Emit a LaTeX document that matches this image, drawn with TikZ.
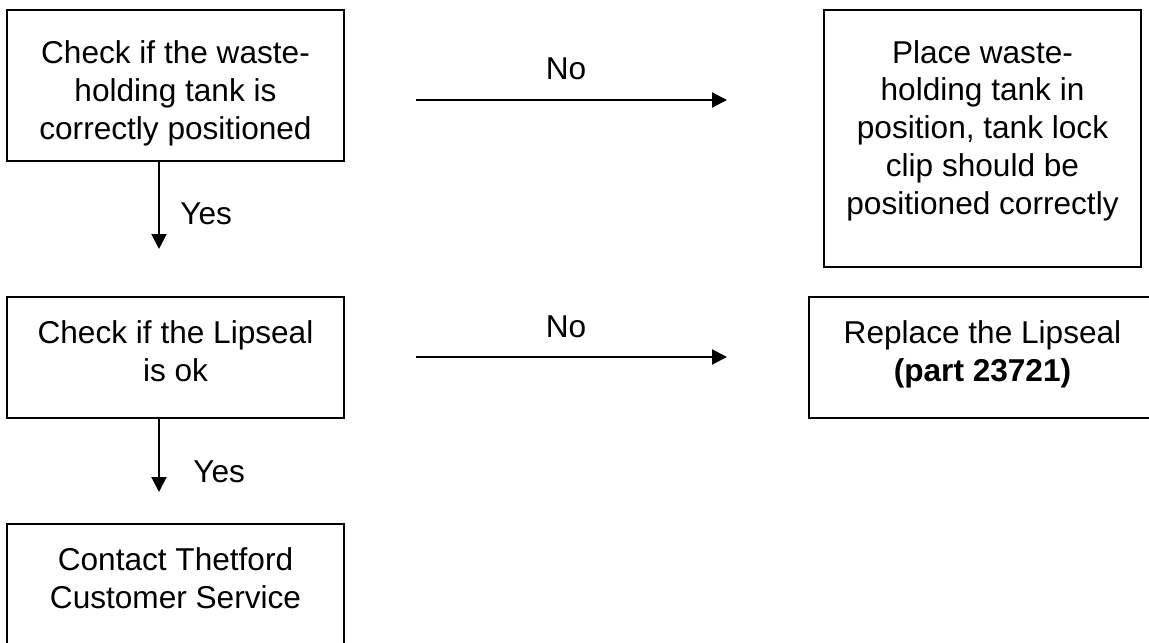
\documentclass[tikz,border=0pt]{standalone}
\usepackage{fontspec}
\setmainfont{Liberation Sans}
\usetikzlibrary{arrows.meta}
\tikzset{
  flowbox/.style={draw, line width=1pt, inner sep=0pt, align=center, anchor=north,
    font=\fontsize{15.8}{18.85}\selectfont},
  lbl/.style={inner sep=0pt, font=\fontsize{15.8}{18.85}\selectfont},
  flow/.style={-{Triangle[length=7.5pt,width=7.5pt]}, line width=1pt}
}
\begin{document}
\begin{tikzpicture}[x=0.5pt,y=-0.5pt]
      \useasboundingbox (0,0) rectangle (1149,642);
      \clip (0,0) rectangle (1149,642);
      \node[flowbox, minimum width=168.5pt, text height=64.5pt, text depth=11pt]
        (checktank) at (175.5,9) {Check if the waste-\\holding tank is\\correctly positioned};
      \node[flowbox, minimum width=158.5pt, text height=102pt, text depth=26.5pt]
        (placetank) at (982.5,9) {Place waste-\\holding tank in\\position, tank lock\\clip should be\\positioned correctly};
      \node[flowbox, minimum width=168.5pt, text height=42pt, text depth=18.5pt]
        (checkseal) at (175.5,296) {Check if the Lipseal\\is ok};
      \node[flowbox, minimum width=173.5pt, text height=42pt, text depth=18.5pt]
        (replaceseal) at (982.5,296) {Replace the Lipseal\\\textbf{(part 23721)}};
      \node[flowbox, minimum width=168.5pt, text height=42pt, text depth=19pt]
        (contact) at (175.5,523) {Contact Thetford\\Customer Service};
      \coordinate (no1s) at (416,100);
      \coordinate (no1e) at (727,100);
      \coordinate (no2s) at (416,357);
      \coordinate (no2e) at (727,357);
      \coordinate (yes1e) at (159,249);
      \coordinate (yes2e) at (159,492);
      \node[lbl, anchor=base] (no1) at (566,80) {No};
      \node[lbl, anchor=base] (no2) at (566,337) {No};
      \node[lbl, anchor=base west] (yes1) at (180,224) {Yes};
      \node[lbl, anchor=base west] (yes2) at (193,482) {Yes};
      \begin{scope}[flow]
        \draw (no1s) to (no1e);
        \draw (no2s) to (no2e);
        \draw (checktank.south -| yes1e) to (yes1e);
        \draw (checkseal.south -| yes2e) to (yes2e);
      \end{scope}
    \end{tikzpicture}
\end{document}
